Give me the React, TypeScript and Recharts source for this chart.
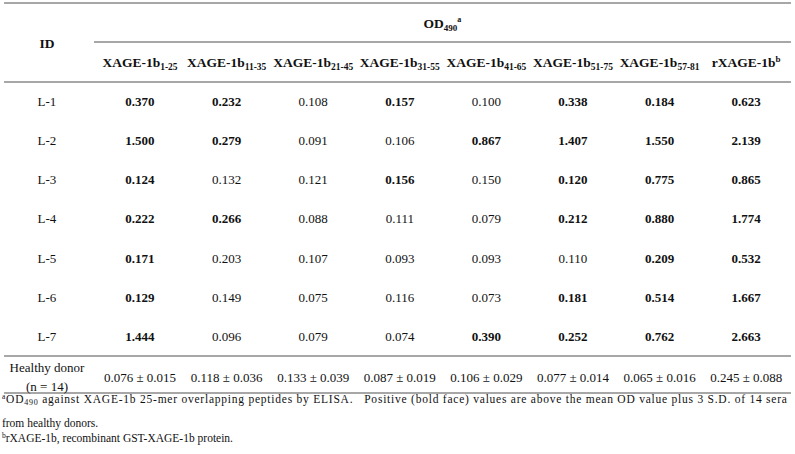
import React from 'react';
import { ScatterChart, Scatter, XAxis, YAxis, ReferenceLine } from 'recharts';

// ---------- data ----------
const peptideRanges = ['1-25', '11-35', '21-45', '31-55', '41-65', '51-75', '57-81'];
const peptidePrefix = 'XAGE-1b';
const recombinantLabel = 'rXAGE-1b';
const patientIds = ['L-1', 'L-2', 'L-3', 'L-4', 'L-5', 'L-6', 'L-7'];

const od_1_25 = [0.370, 1.500, 0.124, 0.222, 0.171, 0.129, 1.444];
const od_11_35 = [0.232, 0.279, 0.132, 0.266, 0.203, 0.149, 0.096];
const od_21_45 = [0.108, 0.091, 0.121, 0.088, 0.107, 0.075, 0.079];
const od_31_55 = [0.157, 0.106, 0.156, 0.111, 0.093, 0.116, 0.074];
const od_41_65 = [0.100, 0.867, 0.150, 0.079, 0.093, 0.073, 0.390];
const od_51_75 = [0.338, 1.407, 0.120, 0.212, 0.110, 0.181, 0.252];
const od_57_81 = [0.184, 1.550, 0.775, 0.880, 0.209, 0.514, 0.762];
const od_rXAGE = [0.623, 2.139, 0.865, 1.774, 0.532, 1.667, 2.663];

const healthyMean = [0.076, 0.118, 0.133, 0.087, 0.106, 0.077, 0.065, 0.245];
const healthySd = [0.015, 0.036, 0.039, 0.019, 0.029, 0.014, 0.016, 0.088];
const healthyLabel = ['Healthy donor', '(n = 14)'];

const idHeader = 'ID';
const groupHeader = 'OD';
const groupHeaderSub = '490';
const footA_1 = ' against XAGE-1b 25-mer overlapping peptides by ELISA.   Positive (bold face) values are above the mean OD value plus 3 S.D. of 14 sera';
const footA_2 = 'from healthy donors.';
const footB = 'rXAGE-1b, recombinant GST-XAGE-1b protein.';

const odColumns = [od_1_25, od_11_35, od_21_45, od_31_55, od_41_65, od_51_75, od_57_81, od_rXAGE];

// ---------- layout (data units: column index / row index) ----------
const X_DOMAIN: [number, number] = [-1.6166, 7.5635];
const Y_DOMAIN: [number, number] = [-2.5985, 9.0127];
const ID_COL = -1.074;
const TABLE_LEFT = -1.57;
const TABLE_RIGHT = 7.517;
const GROUP_LEFT = -0.531;
const FOOT_X = -1.594;

const FONT = '"Liberation Serif", "Times New Roman", Times, serif';
const INK = '#111';
const RULE = '#8a8a8a';

const cells = odColumns.flatMap((col, i) =>
  col.map((v, j) => ({
    x: i,
    y: j,
    text: v.toFixed(3),
    bold: v > healthyMean[i] + 3 * healthySd[i],
  }))
);
const idCells = patientIds.map((id, j) => ({ x: ID_COL, y: j, text: id }));
const healthyCells = healthyMean.map((m, i) => ({
  x: i,
  y: 7.05,
  text: `${m.toFixed(3)} ± ${healthySd[i].toFixed(3)}`,
}));
const healthyLabelCells = [{ x: ID_COL, y: 7.03, lines: healthyLabel }];
const headerCells = [
  ...peptideRanges.map((r, i) => ({ x: i, y: -1.0, kind: 'pep', text: peptidePrefix, sub: r })),
  { x: peptideRanges.length, y: -1.0, kind: 'rec', text: recombinantLabel, sub: 'b' },
];
const idHeaderCells = [{ x: ID_COL, y: -1.5, text: idHeader }];
const groupCells = [{ x: (GROUP_LEFT + TABLE_RIGHT) / 2, y: -2.0, text: groupHeader }];
const footCells = [{ x: FOOT_X, y: 7.71 }];

const ValueShape = (p: any) => {
  const { cx, cy, payload } = p;
  return (
    <text x={cx} y={cy} dy="0.35em" textAnchor="middle" fontFamily={FONT} fontSize={13}
      fontWeight={payload.bold ? 700 : 400} fill={INK}>
      {payload.text}
    </text>
  );
};

const PlainShape = (p: any) => {
  const { cx, cy, payload } = p;
  return (
    <text x={cx} y={cy} dy="0.35em" textAnchor="middle" fontFamily={FONT} fontSize={13} fill={INK}
      style={{ whiteSpace: 'pre' }}>
      {payload.text}
    </text>
  );
};

const HealthyLabelShape = (p: any) => {
  const { cx, cy, payload } = p;
  return (
    <g>
      {payload.lines.map((l: string, k: number) => (
        <text key={k} x={cx} y={cy + (k === 0 ? -9.5 : 9.5)} dy="0.35em" textAnchor="middle"
          fontFamily={FONT} fontSize={13} fill={INK}>
          {l}
        </text>
      ))}
    </g>
  );
};

const HeaderShape = (p: any) => {
  const { cx, cy, payload } = p;
  return (
    <text x={cx} y={cy} dy="0.35em" textAnchor="middle" fontFamily={FONT} fontSize={13.5}
      fontWeight={700} fill={INK}>
      {payload.text}
      {payload.kind === 'pep' ? (
        <tspan fontSize={9.5} dy={3}>{payload.sub}</tspan>
      ) : (
        <tspan fontSize={9} dy={-5}>{payload.sub}</tspan>
      )}
    </text>
  );
};

const IdHeaderShape = (p: any) => {
  const { cx, cy, payload } = p;
  return (
    <text x={cx} y={cy} dy="0.35em" textAnchor="middle" fontFamily={FONT} fontSize={13.5}
      fontWeight={700} fill={INK}>
      {payload.text}
    </text>
  );
};

const GroupShape = (p: any) => {
  const { cx, cy, payload } = p;
  return (
    <text x={cx} y={cy} dy="0.35em" textAnchor="middle" fontFamily={FONT} fontSize={13.5}
      fontWeight={700} fill={INK}>
      {payload.text}
      <tspan fontSize={9} dy={3}>{groupHeaderSub}</tspan>
      <tspan fontSize={8} dy={-9}>a</tspan>
    </text>
  );
};

const FootShape = (p: any) => {
  const { cx, cy } = p;
  return (
    <g fontFamily={FONT} fill={INK}>
      <text x={cx} y={cy} dy="0.35em" fontSize={11.5} style={{ whiteSpace: 'pre' }}
        textLength={785} lengthAdjust="spacing">
        <tspan fontSize={7.5} dy={-4}>a</tspan>
        <tspan dy={4}>OD</tspan>
        <tspan fontSize={8} dy={2}>{groupHeaderSub}</tspan>
        <tspan dy={-2}>{footA_1}</tspan>
      </text>
      <text x={cx} y={cy + 19.5} dy="0.35em" fontSize={11.5}>{footA_2}</text>
      <text x={cx} y={cy + 39} dy="0.35em" fontSize={11.5}>
        <tspan fontSize={7.5} dy={-4}>b</tspan>
        <tspan dy={4}>{footB}</tspan>
      </text>
    </g>
  );
};

const ruleProps = { stroke: RULE, strokeWidth: 1.4, ifOverflow: 'visible' as const };

export default function App() {
  return (
    <div style={{ position: 'absolute', left: 0, top: 0, width: 795, height: 454, background: '#fff' }}>
      <ScatterChart width={795} height={454} margin={{ top: 0, right: 0, bottom: 0, left: 0 }}>
        <XAxis type="number" dataKey="x" domain={X_DOMAIN} hide allowDataOverflow />
        <YAxis type="number" dataKey="y" domain={Y_DOMAIN} hide reversed allowDataOverflow />
        <ReferenceLine {...ruleProps} segment={[{ x: TABLE_LEFT, y: -2.522 }, { x: TABLE_RIGHT, y: -2.522 }]} />
        <ReferenceLine {...ruleProps} segment={[{ x: GROUP_LEFT, y: -1.524 }, { x: TABLE_RIGHT, y: -1.524 }]} />
        <ReferenceLine {...ruleProps} segment={[{ x: TABLE_LEFT, y: -0.501 }, { x: TABLE_RIGHT, y: -0.501 }]} />
        <ReferenceLine {...ruleProps} segment={[{ x: TABLE_LEFT, y: 6.506 }, { x: TABLE_RIGHT, y: 6.506 }]} />
        <ReferenceLine {...ruleProps} segment={[{ x: TABLE_LEFT, y: 7.453 }, { x: TABLE_RIGHT, y: 7.453 }]} />
        <Scatter data={cells} shape={ValueShape} isAnimationActive={false} />
        <Scatter data={idCells} shape={PlainShape} isAnimationActive={false} />
        <Scatter data={healthyCells} shape={PlainShape} isAnimationActive={false} />
        <Scatter data={healthyLabelCells} shape={HealthyLabelShape} isAnimationActive={false} />
        <Scatter data={headerCells} shape={HeaderShape} isAnimationActive={false} />
        <Scatter data={idHeaderCells} shape={IdHeaderShape} isAnimationActive={false} />
        <Scatter data={groupCells} shape={GroupShape} isAnimationActive={false} />
        <Scatter data={footCells} shape={FootShape} isAnimationActive={false} />
      </ScatterChart>
    </div>
  );
}
